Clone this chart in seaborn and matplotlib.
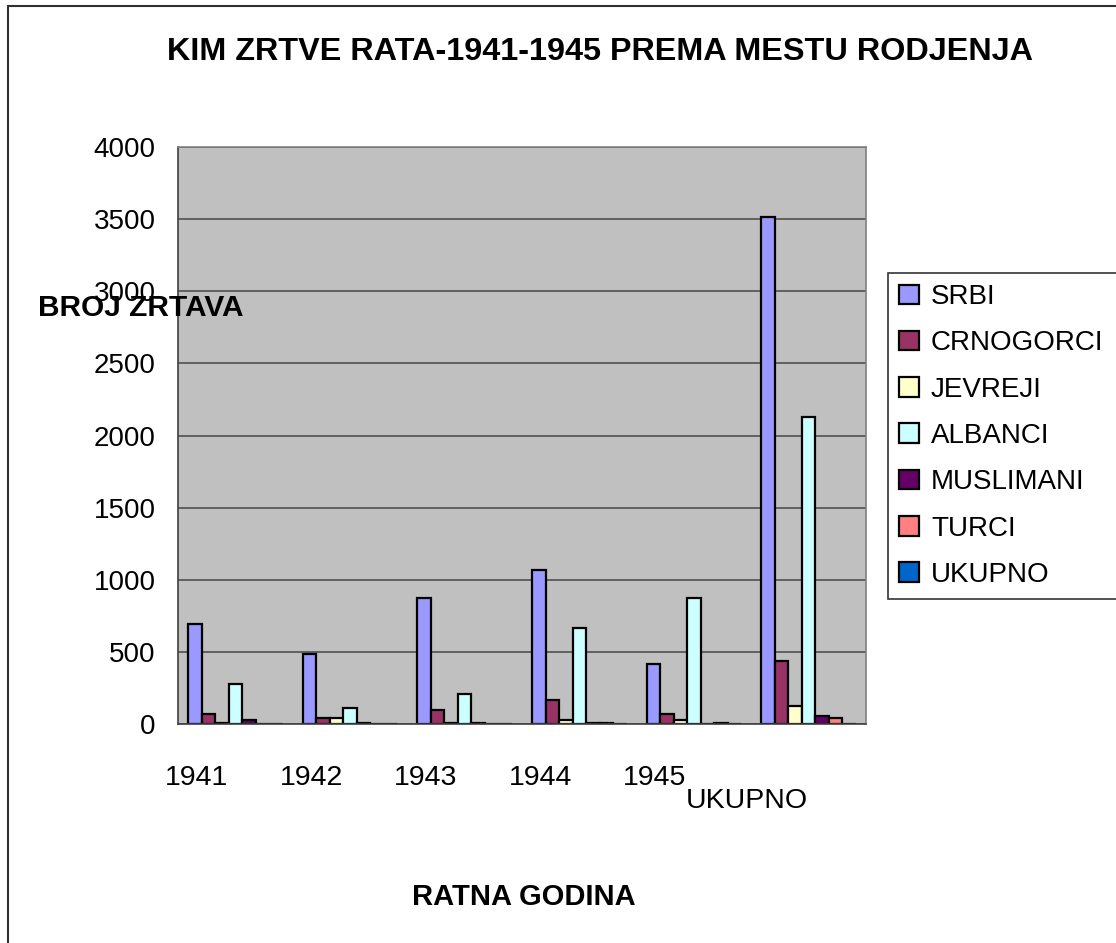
import matplotlib
matplotlib.use('Agg')
import matplotlib.pyplot as plt
from matplotlib.patches import Rectangle
import pandas as pd
import seaborn as sns
import numpy as np

# values
godine = ['1941', '1942', '1943', '1944', '1945', 'UKUPNO']
srbi = [690, 485, 873, 1067, 416, 3515]
crnogorci = [67, 40, 95, 166, 69, 440]
jevreji = [10, 40, 10, 28, 28, 125]
albanci = [275, 111, 208, 667, 873, 2130]
muslimani = [25, 10, 10, 10, 0, 55]
turci = [0, 0, 0, 10, 10, 40]
ukupno = [0, 0, 0, 0, 0, 0]

serije = ['SRBI', 'CRNOGORCI', 'JEVREJI', 'ALBANCI', 'MUSLIMANI', 'TURCI', 'UKUPNO']
boje = ['#9999FF', '#993366', '#FFFFCC', '#CCFFFF', '#660066', '#FF8080', '#0066CC']

vrednosti = [srbi, crnogorci, jevreji, albanci, muslimani, turci, ukupno]
rows = []
for s, vals in zip(serije, vrednosti):
    for g, v in zip(godine, vals):
        rows.append({'godina': g, 'narod': s, 'broj': v})
df = pd.DataFrame(rows)

sns.set_style('white')
plt.rcParams['font.family'] = ['Liberation Sans', 'DejaVu Sans']
plt.rcParams['text.color'] = 'black'
plt.rcParams['xtick.color'] = 'black'
plt.rcParams['ytick.color'] = 'black'

fig = plt.figure(figsize=(11.16, 9.43), dpi=100)
ax = fig.add_axes([178/1116, 1-724/943, (866-178)/1116, (724-147)/943])

sns.barplot(data=df, x='godina', y='broj', hue='narod', order=godine, hue_order=serije,
            palette=boje, width=0.824, gap=0, edgecolor='black', linewidth=1.6,
            errorbar=None, saturation=1, ax=ax)

ax.set_facecolor('#C0C0C0')
ax.set_ylim(0, 4000)
ax.set_xlim(-0.5, 5.5)
ax.set_yticks(np.arange(0, 4001, 500))
ax.tick_params(axis='y', labelsize=20, length=7, width=1, color='#404040',
               labelcolor='black', pad=9)
ax.set_xticks(np.arange(-0.5, 5.6, 1))
ax.set_xticklabels([])
ax.tick_params(axis='x', length=7, width=1, color='#404040')
ax.yaxis.grid(True, color='#505050', linewidth=1.2)
ax.set_axisbelow(True)
for side in ['left', 'bottom']:
    ax.spines[side].set_color('#404040')
    ax.spines[side].set_linewidth(1.2)
for side in ['top', 'right']:
    ax.spines[side].set_color('#808080')
    ax.spines[side].set_linewidth(1.2)
ax.set_xlabel('')
ax.set_ylabel('')

# category labels, placed like the original (staggered last one)
trans = ax.get_xaxis_transform()
for i, g in enumerate(godine):
    if g == 'UKUPNO':
        ax.text(i - 0.54, -0.133, g, transform=trans, ha='center', va='center', fontsize=20.5)
    else:
        ax.text(i - 0.34, -0.094, g, transform=trans, ha='center', va='center', fontsize=20.5)

fig.text(600/1116, 1-52/943, 'KIM ZRTVE RATA-1941-1945 PREMA MESTU RODJENJA',
         ha='center', va='center', fontsize=23.3, fontweight='bold')
fig.text(38/1116, 1-308/943, 'BROJ ZRTAVA', ha='left', va='center',
         fontsize=21.5, fontweight='bold')
fig.text(524/1116, 1-897/943, 'RATNA GODINA', ha='center', va='center',
         fontsize=21, fontweight='bold')

# outer chart border
fig.patches.append(Rectangle((8/1116, -0.05), 1.2, 1-6/943+0.05, transform=fig.transFigure,
                             fill=False, edgecolor='#303030', linewidth=1.5))

handles, labels = ax.get_legend_handles_labels()
leg = ax.legend(handles, labels, loc='upper left',
                bbox_to_anchor=(888/1116, 1-597/943, 0.3, (597-273)/943),
                bbox_transform=fig.transFigure, mode='expand', fontsize=20,
                frameon=True, fancybox=False, edgecolor='black',
                handlelength=0.7, handleheight=0.7, handletextpad=0.45,
                labelspacing=0.73, borderpad=0.4, borderaxespad=0)
leg.get_frame().set_linewidth(1.2)

fig.savefig('out.png', dpi=100)
